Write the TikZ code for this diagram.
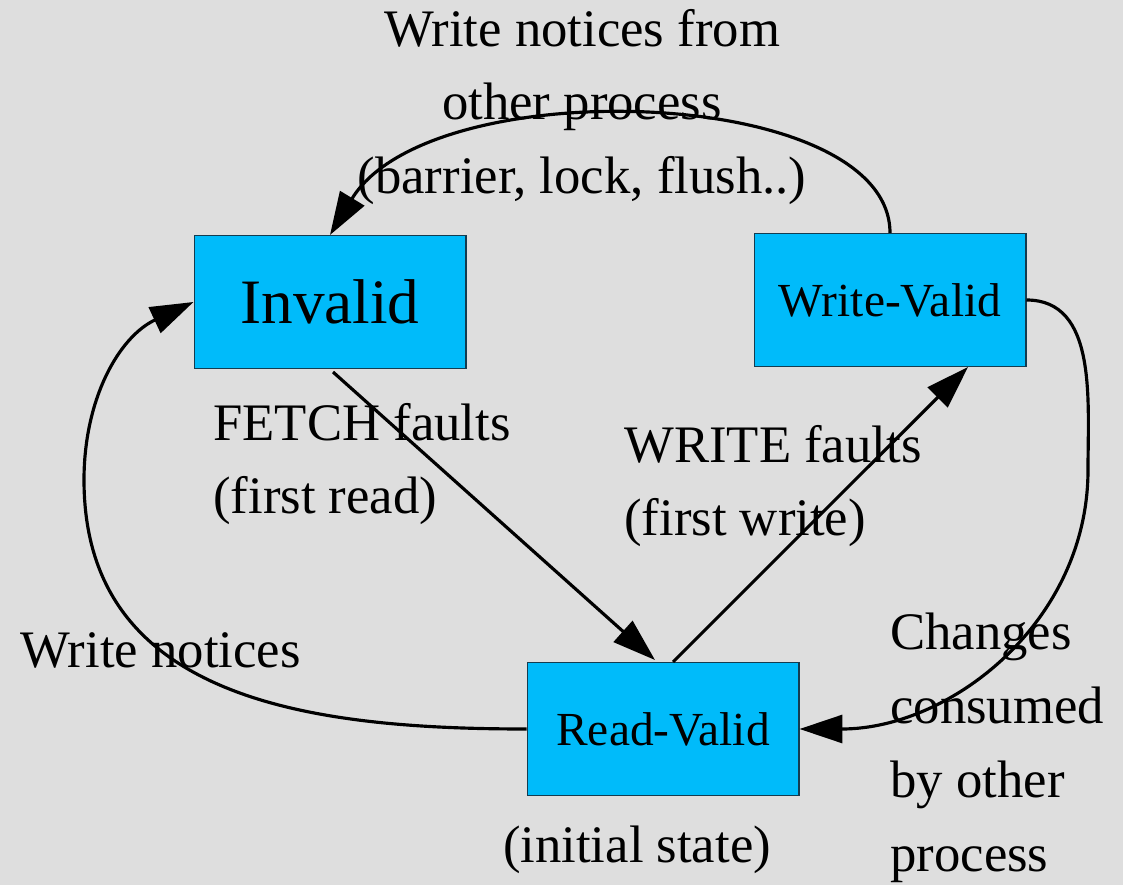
\documentclass[tikz,border=0pt]{standalone}
\usepackage{fontspec}
\setmainfont{Liberation Serif}
\usetikzlibrary{arrows.meta, positioning, calc}
\definecolor{bgcol}{RGB}{222,222,222}
\definecolor{boxcol}{RGB}{0,187,250}
\definecolor{edgecol}{RGB}{20,60,80}

\begin{document}
\begin{tikzpicture}[
    x=0.02cm, y=-0.02cm,
    every node/.style={font=\fontsize{30}{42}\selectfont},
    block/.style={draw=edgecol, line width=0.6pt, fill=boxcol, minimum width=5.44cm, minimum height=2.66cm, inner sep=0pt, font=\fontsize{27}{32}\selectfont},
    arr/.style={-{Triangle[length=0.86cm, width=0.56cm]}, line width=1.8pt},
    note/.style={inner sep=0pt, align=left},
]
    % Background and margins
    \fill[bgcol] (0,0) rectangle (1123,885);

    % States
    \node[block, font=\fontsize{36}{40}\selectfont] (inv) at (330,302) {Invalid};
    \node[block] (wv) at (890,300) {Write-Valid};
    \node[block] (rv) at (663,729) {Read-Valid};

    % Turning points of the side curves
    \coordinate (cl) at (84,480);
    \coordinate (cr) at (1088,470);

    % Transitions
    \draw[arr] (wv.north) .. controls (890,85) and (430,70) .. (inv.north);
    \draw[arr] ($(inv.south)+(3,3)$) -- ($(rv.north)+(-8,-2)$);
    \draw[arr] ($(rv.north)+(10,0)$) -- ($(wv.south)+(78,0)$);
    \draw[arr] (wv.east) to[out=0, in=90] (cr) to[out=-90, in=0] (rv.east);
    \draw[arr] (rv.west) to[out=180, in=-90, looseness=1.1] (cl) to[out=90, in=205] (inv.west);

    % Labels
    \node[note, align=center] (top) at (582,107) {Write notices from\\other process\\(barrier, lock, flush..)};
    \node[note, anchor=west] (fetch) at (213,464) {FETCH faults\\(first read)};
    \node[note, anchor=west] (write) at (624,486) {WRITE faults\\(first write)};
    \node[note, anchor=west] (wn) at (20,650) {Write notices};
    \node[note, anchor=west] (chg) at (890,748) {Changes\\consumed\\by other\\process};
    \node[note, below=0.6cm of rv, xshift=-0.52cm] (init) {(initial state)};
\end{tikzpicture}
\end{document}
